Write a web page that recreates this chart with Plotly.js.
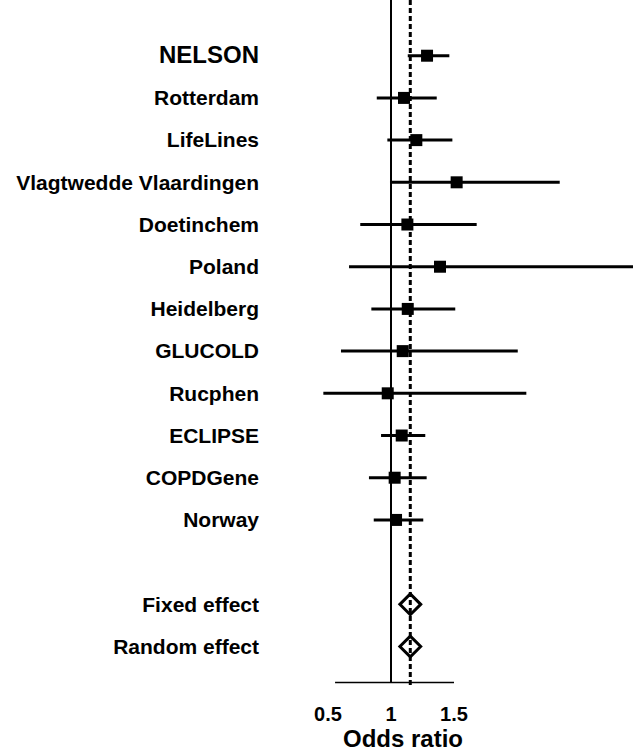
<!DOCTYPE html>
<html>
<head>
<meta charset="utf-8">
<script src="https://cdn.plot.ly/plotly-3.0.1.min.js"></script>
<style>html,body{margin:0;padding:0;background:#fff;}#chart{width:633px;height:754px;}</style>
</head>
<body>
<div id="chart"></div>
<script>
const studies = ["NELSON","Rotterdam","LifeLines","Vlagtwedde Vlaardingen","Doetinchem","Poland","Heidelberg","GLUCOLD","Rucphen","ECLIPSE","COPDGene","Norway"];
const oddsRatio = [1.286,1.103,1.201,1.521,1.130,1.389,1.133,1.093,0.974,1.085,1.029,1.040];
const ciLow =     [1.133,0.887,0.971,0.992,0.756,0.667,0.844,0.603,0.463,0.921,0.825,0.863];
const ciHigh =    [1.463,1.363,1.487,2.339,1.680,3.000,1.510,2.006,2.074,1.272,1.283,1.256];
const summaryLabels = ["Fixed effect","Random effect"];
const summaryOR = [1.153,1.153];
const xTickVals = [0.5,1,1.5];
const xTickText = ["0.5","1","1.5"];
const xAxisTitle = "Odds ratio";
const axisFrom = 0.556, axisTo = 1.5;

const studyRows = studies.map((s,i)=>i+1);
const summaryRows = [14,15];
const FAM = 'Liberation Sans, Arial, sans-serif';

const traces = [
  {
    type:'scatter', mode:'markers', x:oddsRatio, y:studyRows,
    marker:{symbol:'square', size:12, color:'#000'},
    error_x:{type:'data', symmetric:false,
      array:oddsRatio.map((v,i)=>ciHigh[i]-v),
      arrayminus:oddsRatio.map((v,i)=>v-ciLow[i]),
      thickness:3, width:0, color:'#000'},
    showlegend:false, hoverinfo:'x'
  },
  {
    type:'scatter', mode:'markers', x:summaryOR, y:summaryRows,
    marker:{symbol:'diamond-open', size:16, color:'#000', line:{width:3, color:'#000'}},
    showlegend:false, hoverinfo:'x'
  }
];

const tickText = studies.map((s,i)=> i===0 ? '<span style="font-size:24px">'+s+'</span>' : s)
  .concat(summaryLabels);

const layout = {
  width:633, height:754,
  margin:{l:260, r:0, t:0, b:64},
  paper_bgcolor:'#fff', plot_bgcolor:'#fff',
  font:{family:FAM, color:'#000', weight:'bold'},
  xaxis:{
    range:[-0.0397, 2.9206], showgrid:false, zeroline:false, showline:false, ticks:'',
    tickvals:xTickVals, ticktext:xTickText, ticklabelstandoff:10,
    tickfont:{size:20, family:FAM, weight:'bold', color:'#000'},
    fixedrange:true
  },
  yaxis:{
    range:[16.03,-0.32], showgrid:false, zeroline:false, showline:false, ticks:'',
    tickvals:studyRows.concat(summaryRows), ticktext:tickText,
    tickfont:{size:21, family:FAM, weight:'bold', color:'#000'},
    fixedrange:true
  },
  annotations:[
    {xref:'x', yref:'paper', x:1.095, y:-0.0696, text:xAxisTitle, showarrow:false,
     xanchor:'center', yanchor:'middle', font:{size:24, family:FAM, weight:'bold', color:'#000'}}
  ],
  shapes:[
    {type:'line', xref:'x', yref:'y', x0:1, x1:1, y0:-0.32, y1:15.85, line:{color:'#000', width:2}},
    {type:'line', xref:'x', yref:'y', x0:summaryOR[0], x1:summaryOR[0], y0:-0.32, y1:15.94, line:{color:'#000', width:3, dash:'5px,3px'}},
    {type:'line', xref:'x', yref:'y', x0:axisFrom, x1:axisTo, y0:15.85, y1:15.85, line:{color:'#000', width:1.5}}
  ]
};

Plotly.newPlot('chart', traces, layout, {displayModeBar:false, staticPlot:true});
</script>
</body>
</html>
